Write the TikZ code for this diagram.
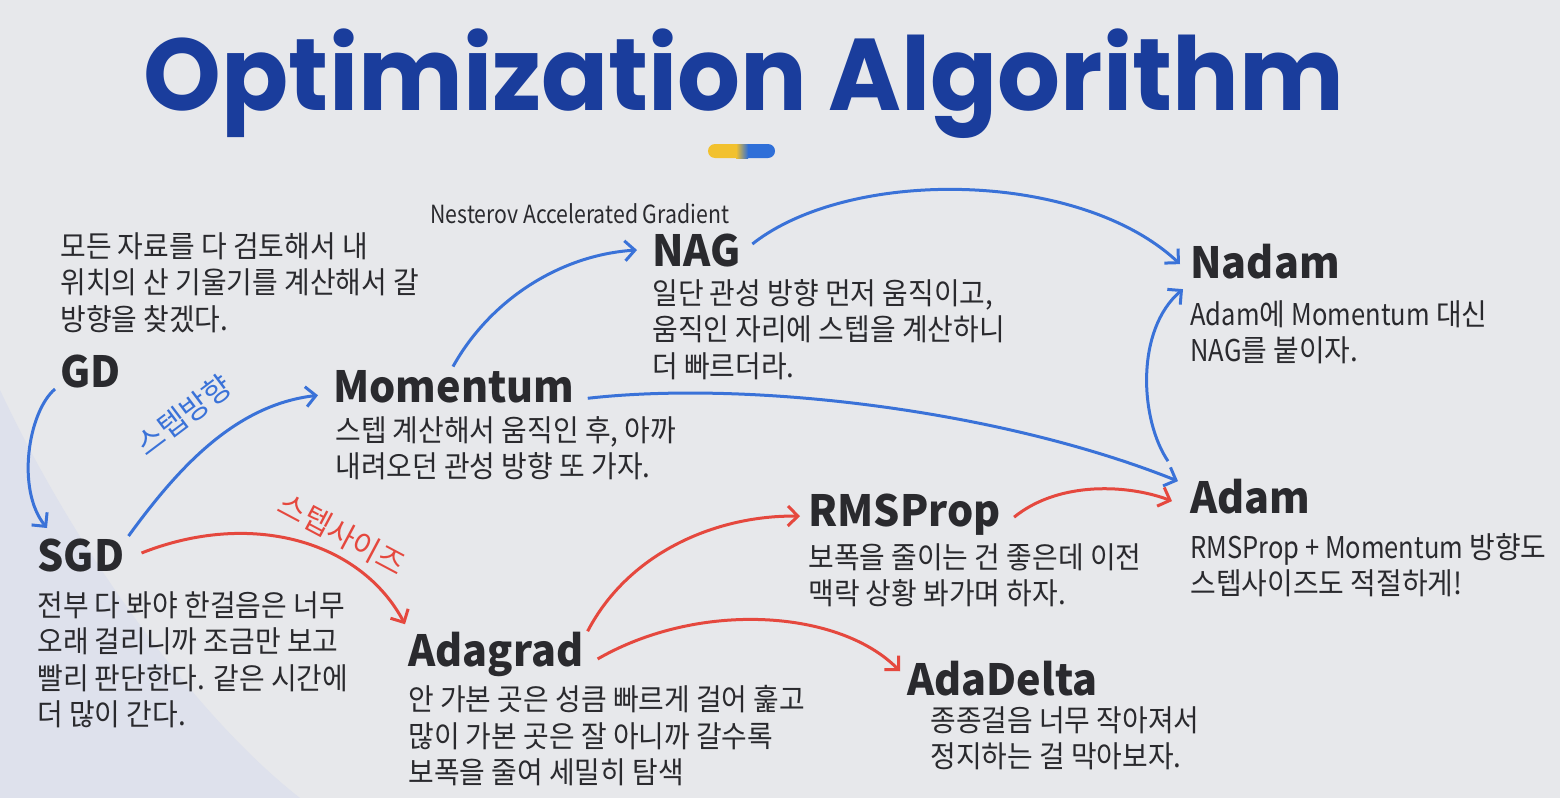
\documentclass[tikz,border=0pt]{standalone}
\usepackage{fontspec}
\usetikzlibrary{arrows.meta}
\newfontfamily\krfont[FakeStretch=0.93]{Noto Sans CJK KR}
\newfontfamily\latfont[FakeStretch=0.85]{Noto Sans CJK KR}
\newfontfamily\hdfont[FakeStretch=0.96]{Noto Sans CJK KR}
\newfontfamily\lblfont{Noto Sans CJK KR}
\newfontfamily\titlefont[FakeStretch=0.97]{Poppins}
\definecolor{bg}{HTML}{E7E8EB}
\definecolor{bgblue}{HTML}{DEE1EC}
\definecolor{ttl}{HTML}{1A3D9C}
\definecolor{ablue}{HTML}{3A72D8}
\definecolor{ared}{HTML}{E5483E}
\definecolor{txt}{HTML}{2A2A2E}
\definecolor{pillyel}{HTML}{F2C12E}
\definecolor{pillblu}{HTML}{2F6FD8}
\tikzset{
  head/.style={font=\hdfont\bfseries\fontsize{21.5}{25}\selectfont, text=txt, inner sep=0pt, anchor=base west},
  desc/.style={font=\krfont\fontsize{15}{18.25}\selectfont, text=txt, inner sep=0pt, anchor=north west, align=left},
  barr/.style={draw=ablue, line width=1.5pt, -{Straight Barb[length=5pt,width=10pt]}},
  rarr/.style={draw=ared, line width=1.5pt, -{Straight Barb[length=5pt,width=10pt]}},
  lbl/.style={font=\lblfont\fontsize{15}{18}\selectfont, inner sep=0pt},
}
\begin{document}
\begin{tikzpicture}[x=0.5pt,y=0.5pt]
\useasboundingbox (0,0) rectangle (1560,-798);
\fill[bg] (0,0) rectangle (1560,-798);
\fill[bgblue] (0,-390) .. controls (80,-560) and (200,-720) .. (300,-798) -- (0,-798) -- cycle;

% title
\node[font=\titlefont\bfseries\fontsize{51}{51}\selectfont, text=ttl, inner sep=0pt, anchor=base] (title) at (744,-110) {Optimization Algorithm};
\fill[pillyel, rounded corners=3.5pt] (708,-144) rectangle (748,-158);
\fill[pillblu, rounded corners=3.5pt] (736,-144) rectangle (775,-158);
\shade[left color=pillyel, right color=pillblu] (736,-144) rectangle (748,-158);

% headings
\node[head] (gd) at (60,-387) {GD};
\node[head] (sgd) at (37,-571) {SGD};
\node[head] (mom) at (333,-402) {Momentum};
\node[head] (nag) at (652,-266) {NAG};
\node[head] (nadam) at (1190,-278) {Nadam};
\node[head] (adam) at (1190,-513) {Adam};
\node[head] (rms) at (808,-526) {RMSProp};
\node[head] (adagrad) at (408,-666) {Adagrad};
\node[head] (adadelta) at (907,-695) {AdaDelta};

\node[font=\latfont\fontsize{12.5}{14}\selectfont, text=txt, inner sep=0pt, anchor=base west] (nesterov) at (430,-223) {Nesterov Accelerated Gradient};

% descriptions
\node[desc] (gdd) at (60,-232) {모든 자료를 다 검토해서 내\\위치의 산 기울기를 계산해서 갈\\방향을 찾겠다.};
\node[desc] (momd) at (335,-416) {스텝 계산해서 움직인 후, 아까\\내려오던 관성 방향 또 가자.};
\node[desc] (nagd) at (652,-279) {일단 관성 방향 먼저 움직이고,\\움직인 자리에 스텝을 계산하니\\더 빠르더라.};
\node[desc] (nadamd) at (1190,-300) {{\latfont Adam}에 {\latfont Momentum} 대신\\{\latfont NAG}를 붙이자.};
\node[desc] (adamd) at (1190,-533) {{\latfont RMSProp + Momentum} 방향도\\스텝사이즈도 적절하게!};
\node[desc] (sgdd) at (37,-591) {전부 다 봐야 한걸음은 너무\\오래 걸리니까 조금만 보고\\빨리 판단한다. 같은 시간에\\더 많이 간다.};
\node[desc] (rmsd) at (808,-543) {보폭을 줄이는 건 좋은데 이전\\맥락 상황 봐가며 하자.};
\node[desc] (adagradd) at (408,-685) {안 가본 곳은 성큼 빠르게 걸어 훑고\\많이 가본 곳은 잘 아니까 갈수록\\보폭을 줄여 세밀히 탐색};
\node[desc] (adadeltad) at (930,-706) {종종걸음 너무 작아져서\\정지하는 걸 막아보자.};

% labels
\node[lbl, text=ablue, rotate=37] (dirlbl) at (184,-415) {스텝방향};
\node[lbl, text=ared, rotate=-28] (sizelbl) at (342,-534) {스텝사이즈};

% blue arrows
\draw[barr] ([shift={(-5,-1)}]gd.south west) .. controls (28,-412) and (16,-490) .. ([shift={(10,10)}]sgd.north west);
\draw[barr] ([shift={(4,2)}]sgd.north east) .. controls (178,-468) and (235,-405) .. ([shift={(-15,-9)}]mom.west);
\draw[barr] ([shift={(120,3)}]mom.north west) .. controls (490,-300) and (560,-255) .. ([shift={(-15,0)}]nag.west);
\draw[barr] ([shift={(11,6)}]nag.east) .. controls (850,-167) and (1080,-170) .. ([shift={(-10,-3)}]nadam.west);
\draw[barr] ([shift={(13,-12)}]mom.east) .. controls (750,-380) and (1000,-410) .. ([shift={(-12,15)}]adam.west);
\draw[barr] ([shift={(-22,35)}]adam.west) .. controls (1140,-420) and (1135,-330) .. ([shift={(-7,-28)}]nadam.west);

% red arrows
\draw[rarr] ([shift={(17,2)}]sgd.east) .. controls (250,-510) and (360,-540) .. ([shift={(-3,7)}]adagrad.north west);
\draw[rarr] ([shift={(4,0)}]adagrad.north east) .. controls (630,-550) and (720,-515) .. ([shift={(-8,-2)}]rms.west);
\draw[rarr] ([shift={(13,-3)}]rms.east) .. controls (1060,-480) and (1130,-485) .. ([shift={(-18,-5)}]adam.west);
\draw[rarr] ([shift={(14,-5)}]adagrad.east) .. controls (700,-600) and (840,-610) .. ([shift={(-7,-11)}]adadelta.north west);
\end{tikzpicture}
\end{document}
